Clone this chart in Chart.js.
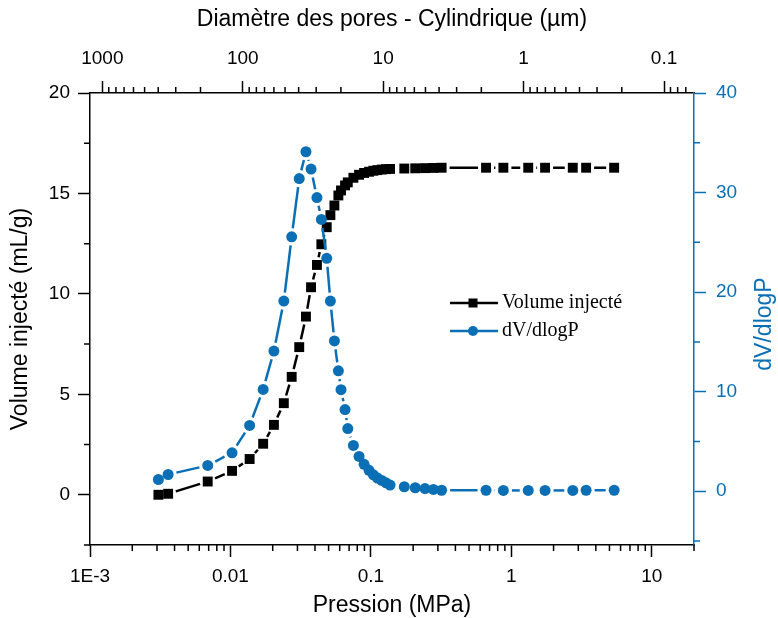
<!DOCTYPE html>
<html>
<head>
<meta charset="utf-8">
<script src="https://cdn.jsdelivr.net/npm/chart.js@4.4.0/dist/chart.umd.min.js"></script>
<style>
  html, body { margin: 0; padding: 0; background: #fff; }
</style>
</head>
<body>
<canvas id="chart" width="778" height="618"></canvas>
<script>
// pressure (MPa) of each measurement point
const pression = [0.00307, 0.00360, 0.00689, 0.01027, 0.0137, 0.0171, 0.0204, 0.0240, 0.0273, 0.0309,
  0.0345, 0.0375, 0.0413, 0.0444, 0.0485, 0.0515, 0.0550, 0.0587, 0.0613, 0.0655,
  0.0685, 0.0751, 0.0824, 0.0895, 0.0971, 0.1042, 0.1113, 0.1196, 0.1283, 0.1370,
  0.173, 0.207, 0.243, 0.279, 0.319, 0.661, 0.878, 1.32, 1.74, 2.74, 3.41, 5.40];

// cumulative injected volume (mL/g)
const volume = [0.00, 0.05, 0.66, 1.19, 1.78, 2.54, 3.48, 4.56, 5.87, 7.35,
  8.87, 10.33, 11.44, 12.47, 13.32, 13.92, 14.40, 14.90, 15.15, 15.40,
  15.55, 15.78, 15.93, 16.02, 16.08, 16.13, 16.16, 16.19, 16.21, 16.22,
  16.24, 16.25, 16.26, 16.27, 16.28, 16.28, 16.28, 16.28, 16.28, 16.28, 16.28, 16.28];

// dV/dlogP
const dvdlogp = [1.18, 1.68, 2.59, 3.86, 6.61, 10.23, 14.08, 19.1, 25.55, 31.4,
  34.1, 32.36, 29.5, 27.3, 23.4, 19.1, 15.1, 12.1, 10.2, 8.2,
  6.3, 4.6, 3.5, 2.7, 2.1, 1.65, 1.33, 1.08, 0.85, 0.62,
  0.45, 0.35, 0.27, 0.18, 0.1, 0.1, 0.08, 0.08, 0.08, 0.08, 0.1, 0.1];

const xTicks = [0.001, 0.01, 0.1, 1, 10];
const xTickLabels = ['1E-3', '0.01', '0.1', '1', '10'];
const diamTicks = [1000, 100, 10, 1, 0.1];
const diamTickLabels = ['1000', '100', '10', '1', '0.1'];
const yTicks = [0, 5, 10, 15, 20];
const y2Ticks = [0, 10, 20, 30, 40];
const yMinor = [-2.5, 2.5, 7.5, 12.5, 17.5];
const y2Minor = [-5, 5, 15, 25, 35];

// D (µm) = k / P (MPa)
const washburn = 1.224;
const pMin = 0.001, pMax = 20;

const BLUE = '#0b6fb6';
const SANS = '"Liberation Sans", Arial, sans-serif';
const SERIF = '"Liberation Serif", "Times New Roman", serif';

function logMinor(min, max) {
  const out = [];
  for (let e = -4; e <= 4; e++) {
    for (let m = 2; m <= 9; m++) {
      const v = m * Math.pow(10, e);
      if (v >= min * 0.999 && v <= max * 1.001) out.push(v);
    }
  }
  return out;
}

// line stops short of each marker, like the original plot
function gapDash(gap) {
  return ctx => {
    const L = Math.hypot(ctx.p1.x - ctx.p0.x, ctx.p1.y - ctx.p0.y);
    if (L <= 2 * gap) return [0, L + 1000];
    return [0, gap, L - 2 * gap, gap + 1000];
  };
}

const minorTicks = {
  id: 'minorTicks',
  afterDraw(chart) {
    const { ctx, chartArea: a, scales } = chart;
    const len = 6;
    ctx.save();
    ctx.lineWidth = 1.5;
    ctx.strokeStyle = '#000';
    ctx.beginPath();
    logMinor(pMin, pMax).forEach(v => {
      const px = scales.x.getPixelForValue(v);
      ctx.moveTo(px, a.bottom); ctx.lineTo(px, a.bottom + len);
    });
    logMinor(washburn / pMax, washburn / pMin).forEach(v => {
      const px = scales.x2.getPixelForValue(v);
      ctx.moveTo(px, a.top); ctx.lineTo(px, a.top - len);
    });
    yMinor.forEach(v => {
      const py = scales.y.getPixelForValue(v);
      ctx.moveTo(a.left, py); ctx.lineTo(a.left - len, py);
    });
    ctx.stroke();
    ctx.strokeStyle = BLUE;
    ctx.beginPath();
    y2Minor.forEach(v => {
      const py = scales.y2.getPixelForValue(v);
      ctx.moveTo(a.right, py); ctx.lineTo(a.right + len, py);
    });
    ctx.stroke();

    // right axis title, reading bottom to top
    ctx.fillStyle = BLUE;
    ctx.font = '23px ' + SANS;
    ctx.textAlign = 'center';
    ctx.textBaseline = 'middle';
    ctx.translate(765, (a.top + a.bottom) / 2 + 5);
    ctx.rotate(-Math.PI / 2);
    ctx.fillText('dV/dlogP', 0, 0);
    ctx.restore();
  }
};

const legendBox = {
  id: 'legendBox',
  afterDraw(chart) {
    const ctx = chart.ctx;
    const items = [
      { ds: chart.data.datasets[0], y: 303 },
      { ds: chart.data.datasets[1], y: 331 }
    ];
    ctx.save();
    items.forEach(it => {
      const c = it.ds.borderColor;
      ctx.strokeStyle = c;
      ctx.lineWidth = 2.5;
      ctx.beginPath();
      ctx.moveTo(450, it.y); ctx.lineTo(498, it.y);
      ctx.stroke();
      ctx.fillStyle = c;
      if (it.ds.pointStyle === 'rect') {
        ctx.fillRect(473 - 4.5, it.y - 4.5, 9, 9);
      } else {
        ctx.beginPath();
        ctx.arc(473, it.y, 5, 0, Math.PI * 2);
        ctx.fill();
      }
      ctx.fillStyle = '#000';
      ctx.font = '20px ' + SERIF;
      ctx.textAlign = 'left';
      ctx.textBaseline = 'middle';
      ctx.fillText(it.ds.label, 502, it.y);
    });
    ctx.restore();
  }
};

function tickFont() { return { family: SANS, size: 19 }; }
function titleFont() { return { family: SANS, size: 23 }; }

new Chart(document.getElementById('chart'), {
  type: 'line',
  data: {
    datasets: [
      {
        label: 'Volume injecté',
        data: pression.map((p, i) => ({ x: p, y: volume[i] })),
        yAxisID: 'y',
        order: 2,
        borderColor: '#000',
        backgroundColor: '#000',
        borderWidth: 2.5,
        pointStyle: 'rect',
        pointRadius: 7,
        pointBorderWidth: 0,
        pointBackgroundColor: '#000',
        tension: 0,
        segment: { borderDash: gapDash(8) }
      },
      {
        label: 'dV/dlogP',
        data: pression.map((p, i) => ({ x: p, y: dvdlogp[i] })),
        yAxisID: 'y2',
        order: 1,
        borderColor: BLUE,
        backgroundColor: BLUE,
        borderWidth: 2.5,
        pointStyle: 'circle',
        pointRadius: 5.5,
        pointBorderWidth: 0,
        pointBackgroundColor: BLUE,
        tension: 0,
        segment: { borderDash: gapDash(8.5) }
      }
    ]
  },
  options: {
    responsive: false,
    animation: false,
    devicePixelRatio: 1,
    layout: { padding: 0 },
    plugins: { legend: { display: false }, tooltip: { enabled: false } },
    scales: {
      x: {
        type: 'logarithmic',
        position: 'bottom',
        min: pMin,
        max: pMax,
        afterBuildTicks: s => { s.ticks = xTicks.map(v => ({ value: v })); },
        afterFit: s => { s.height = 73; },
        ticks: {
          callback: v => xTickLabels[xTicks.indexOf(v)],
          color: '#000', font: tickFont(), padding: 8, maxRotation: 0, autoSkip: false
        },
        grid: { drawOnChartArea: false, tickLength: 12, tickWidth: 1.5, tickColor: '#000' },
        border: { color: '#000', width: 1.5 },
        title: { display: true, text: 'Pression (MPa)', color: '#000', font: titleFont(), padding: { top: 0, bottom: -1 } }
      },
      x2: {
        type: 'logarithmic',
        position: 'top',
        reverse: true,
        min: washburn / pMax,
        max: washburn / pMin,
        afterBuildTicks: s => { s.ticks = diamTicks.map(v => ({ value: v })); },
        afterFit: s => { s.height = 93; },
        ticks: {
          callback: v => diamTickLabels[diamTicks.indexOf(v)],
          color: '#000', font: tickFont(), padding: 11, maxRotation: 0, autoSkip: false
        },
        grid: { drawOnChartArea: false, tickLength: 12, tickWidth: 1.5, tickColor: '#000' },
        border: { color: '#000', width: 1.5 },
        title: { display: true, text: 'Diamètre des pores - Cylindrique (µm)', color: '#000', font: titleFont(), padding: { top: 6, bottom: 0 } }
      },
      y: {
        type: 'linear',
        position: 'left',
        min: -2.5,
        max: 20,
        afterBuildTicks: s => { s.ticks = yTicks.map(v => ({ value: v })); },
        afterFit: s => { s.width = 90; },
        ticks: { color: '#000', font: tickFont(), padding: 8 },
        grid: { drawOnChartArea: false, tickLength: 12, tickWidth: 1.5, tickColor: '#000' },
        border: { color: '#000', width: 1.5 },
        title: { display: true, text: 'Volume injecté (mL/g)', color: '#000', font: titleFont(), padding: { top: 7, bottom: 0 } }
      },
      y2: {
        type: 'linear',
        position: 'right',
        min: -5.4,
        max: 40,
        afterBuildTicks: s => { s.ticks = y2Ticks.map(v => ({ value: v })); },
        afterFit: s => { s.width = 84; },
        ticks: { color: BLUE, font: tickFont(), padding: 10 },
        grid: { drawOnChartArea: false, tickLength: 12, tickWidth: 1.5, tickColor: BLUE },
        border: { color: BLUE, width: 1.5 }
      }
    }
  },
  plugins: [minorTicks, legendBox]
});
</script>
</body>
</html>
